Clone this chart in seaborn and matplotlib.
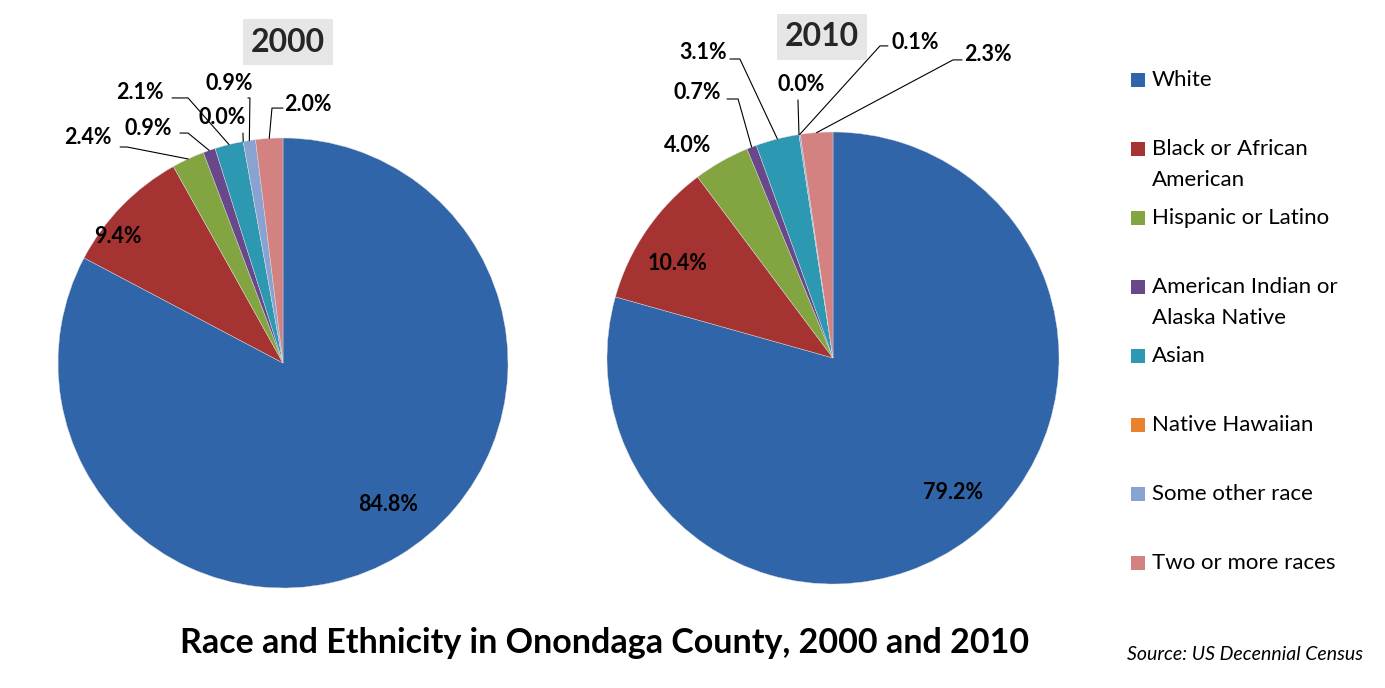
import matplotlib.pyplot as plt
import matplotlib.patches as mpatches
import seaborn as sns
import numpy as np

# data (Excel normalises the slices, the labels show the typed values)
categories = ["White", "Black or African\nAmerican", "Hispanic or Latino",
              "American Indian or\nAlaska Native", "Asian", "Native Hawaiian",
              "Some other race", "Two or more races"]
share_2000 = [84.8, 9.4, 2.4, 0.9, 2.1, 0.0, 0.9, 2.0]
share_2010 = [79.2, 10.4, 4.0, 0.7, 3.1, 0.0, 0.1, 2.3]
years = ["2000", "2010"]

colors = ["#3165AA", "#A53331", "#83A541", "#68488B",
          "#2D98B2", "#E9812D", "#88A3D1", "#D48281"]

# label placement in pie units: text centre, leader start, leader bend (None = no leader)
layout_2000 = [
    ((0.467, -0.631), None, None),
    ((-0.733, 0.56), None, None),
    ((-0.867, 1.004), (-0.724, 0.96), (-0.693, 0.96)),
    ((-0.60, 1.044), (-0.458, 1.022), (-0.422, 1.022)),
    ((-0.636, 1.204), (-0.493, 1.178), (-0.422, 1.178)),
    ((-0.271, 1.089), (-0.178, 1.022), (-0.178, 1.022)),
    ((-0.24, 1.24), (-0.156, 1.178), (-0.147, 1.178)),
    ((0.111, 1.147), (0.0, 1.133), (-0.049, 1.133)),
]
layout_2010 = [
    ((0.531, -0.593), None, None),
    ((-0.686, 0.42), None, None),
    ((-0.642, 0.942), None, None),
    ((-0.602, 1.173), (-0.469, 1.146), (-0.42, 1.146)),
    ((-0.575, 1.35), (-0.456, 1.323), (-0.412, 1.323)),
    ((-0.142, 1.208), (-0.155, 1.142), (-0.155, 1.142)),
    ((0.363, 1.394), (0.243, 1.381), (0.208, 1.381)),
    ((0.686, 1.341), (0.571, 1.319), (0.531, 1.319)),
]

sns.set_theme(style="white")
plt.rcParams['font.family'] = ['Lato', 'DejaVu Sans']
palette = sns.color_palette(colors)

W, H = 1385, 688
fig = plt.figure(figsize=(W / 100, H / 100), dpi=100)


def draw_pie(rect, values, layout, year, year_xy):
    ax = fig.add_axes(rect)
    wedges, _ = ax.pie(values, colors=palette, startangle=90, counterclock=False,
                       radius=1, wedgeprops=dict(linewidth=0.3, edgecolor="#DDDDDD"))
    ax.set_xlim(-1, 1)
    ax.set_ylim(-1, 1)
    ax.set_aspect("equal")
    ax.axis("off")
    for val, w, (txt, start, bend) in zip(values, wedges, layout):
        ax.text(txt[0], txt[1], f"{val:.1f}%", ha="center", va="center",
                fontsize=15.5, fontweight="bold", color="black", clip_on=False)
        if start is not None:
            mid = np.deg2rad((w.theta1 + w.theta2) / 2)
            end = (np.cos(mid), np.sin(mid))
            ax.plot([start[0], bend[0], end[0]], [start[1], bend[1], end[1]],
                    color="black", lw=0.8, clip_on=False)
    fig.text(year_xy[0] / W, 1 - year_xy[1] / H, year, ha="center", va="center",
             fontsize=23, fontweight="bold",
             bbox=dict(facecolor="#E6E6E6", edgecolor="none", pad=6))


draw_pie([58 / W, 100 / H, 450 / W, 450 / H], share_2000, layout_2000, years[0], (288, 42))
draw_pie([607 / W, 104 / H, 452 / W, 452 / H], share_2010, layout_2010, years[1], (822, 37))

# legend drawn as Excel lays it out: equal slots, swatch beside first line
slot_y = 80
for label, col in zip(categories, palette):
    fig.patches.append(mpatches.Rectangle((1131 / W, 1 - (slot_y + 7) / H), 14 / W, 14 / H,
                                          transform=fig.transFigure, facecolor=col,
                                          edgecolor="none"))
    for i, line in enumerate(label.split("\n")):
        fig.text(1152 / W, 1 - (slot_y + 31 * i) / H, line, ha="left", va="center",
                 fontsize=16, color="black")
    slot_y += 69

fig.text(605 / W, 1 - 643 / H, "Race and Ethnicity in Onondaga County, 2000 and 2010",
         ha="center", va="center", fontsize=24.5, fontweight="bold", color="black")
fig.text(1245 / W, 1 - 655 / H, "Source: US Decennial Census", ha="center", va="center",
         fontsize=14, style="italic", color="black")

fig.savefig("out.png", dpi=100)
